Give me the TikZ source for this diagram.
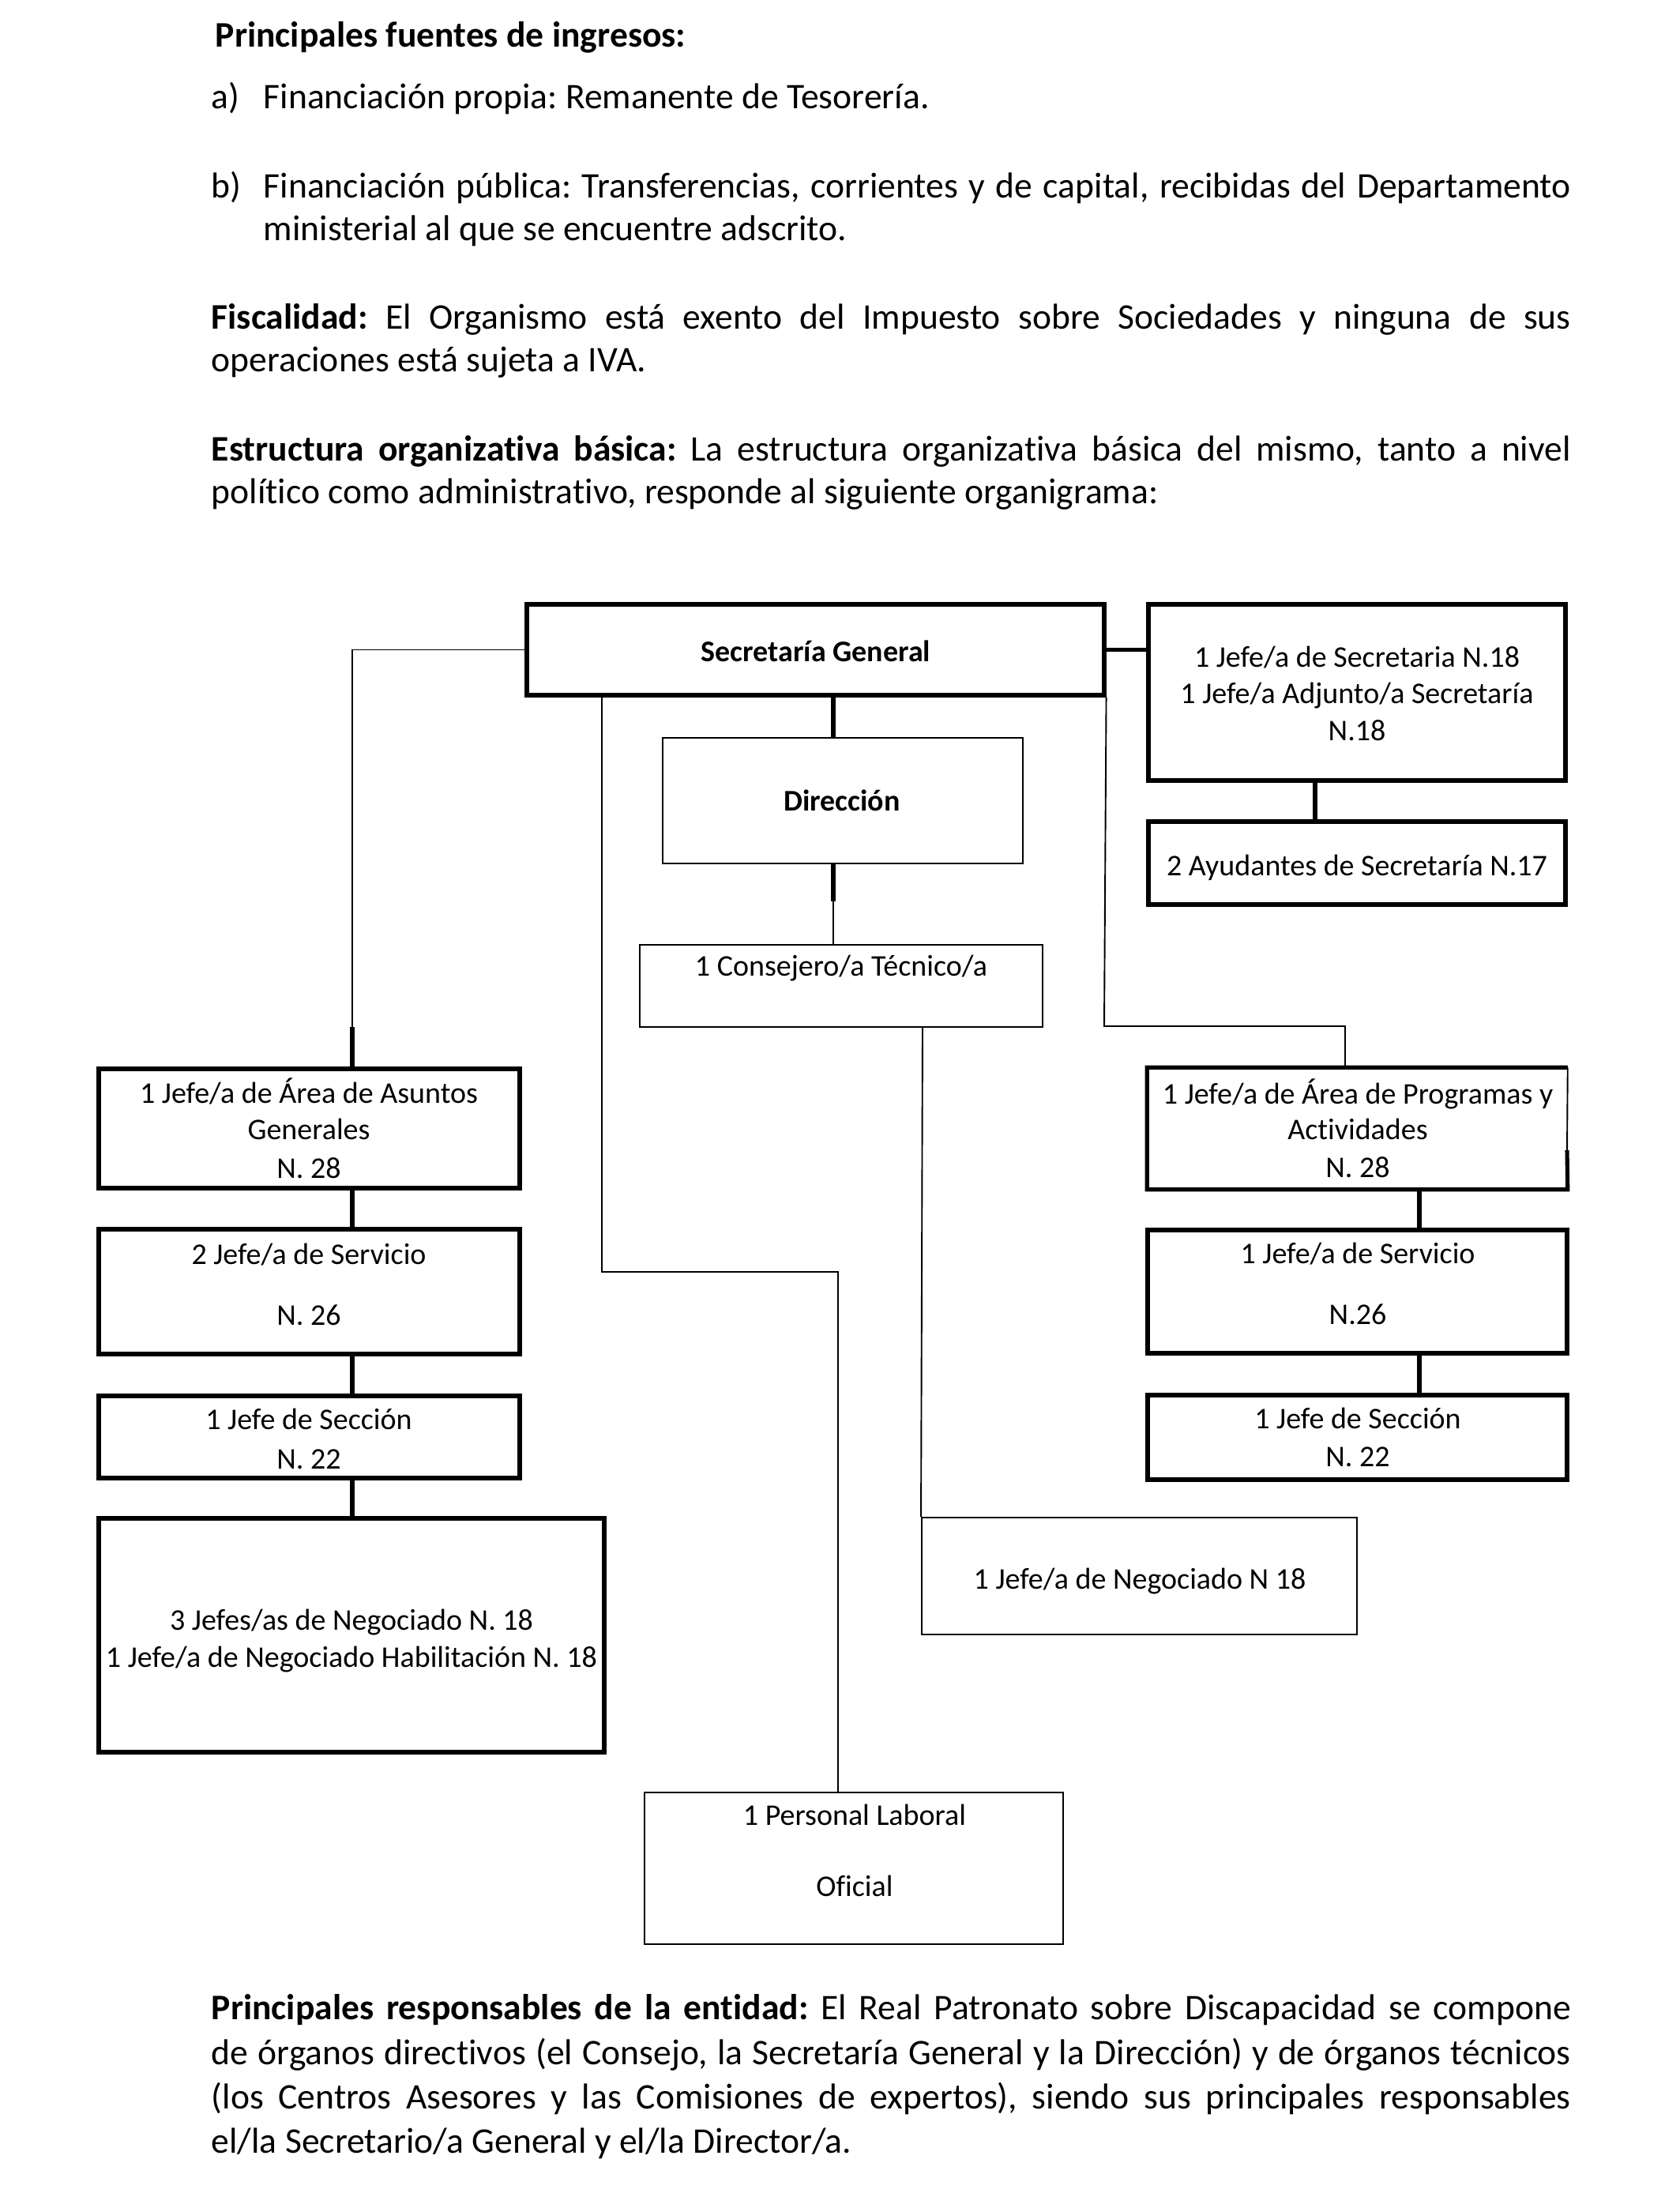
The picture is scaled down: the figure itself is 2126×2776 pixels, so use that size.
\documentclass[tikz,border=0pt]{standalone}
\usepackage{fontspec}
\setmainfont{Carlito}[Ligatures=NoCommon]
\frenchspacing
\usetikzlibrary{fit}
\begin{document}
\begin{tikzpicture}[x=0.2632pt,y=-0.2632pt,
  thk/.style={line width=1.35pt},
  thn/.style={line width=0.5pt},
  boxthick/.style={draw, thk, inner sep=0pt},
  boxthin/.style={draw, thn, inner sep=0pt},
  lbl/.style={anchor=base, inner sep=0pt, font=\fontsize{10}{12}\selectfont},
  body/.style={anchor=base west, inner sep=0pt, font=\fontsize{12}{14}\selectfont\frenchspacing}]
\fill[white] (0,0) rectangle (2126,2776);
\useasboundingbox (0,0) rectangle (2126,2776);

% ---------- top text ----------
\node[body] (t0) at (272,59) {\textbf{Principales fuentes de ingresos:}};
\node[body] (ta) at (267,137) {a)};
\node[body] (ta2) at (333,137) {Financiación propia: Remanente de Tesorería.};
\node[body] (tb) at (267,250) {b)};
\node[body] (tb1) at (333,250) {\makebox[435.6pt][s]{Financiación pública: Transferencias, corrientes y de capital, recibidas del Departamento}};
\node[body] (tb2) at (333,304) {ministerial al que se encuentre adscrito.};
\node[body] (tf1) at (267,416) {\makebox[453pt][s]{\textbf{Fiscalidad:} El Organismo está exento del Impuesto sobre Sociedades y ninguna de sus}};
\node[body] (tf2) at (267,470) {operaciones está sujeta a IVA.};
\node[body] (te1) at (267,583) {\makebox[453pt][s]{\textbf{Estructura organizativa básica:} La estructura organizativa básica del mismo, tanto a nivel}};
\node[body] (te2) at (267,637) {político como administrativo, responde al siguiente organigrama:};

% ---------- boxes ----------
\node[boxthick, fit={(667,765)(1398,880)}] (sg) {};
\node[boxthick, fit={(1454,765)(1982,988)}] (jsec) {};
\node[boxthick, fit={(1454,1040)(1982,1145)}] (ayud) {};
\node[boxthin, fit={(839,934)(1295,1093)}] (dir) {};
\node[boxthin, fit={(810,1196)(1320,1300)}] (cons) {};
\node[boxthick, fit={(125,1353)(658,1504)}] (larea) {};
\node[boxthick, fit={(125,1556)(658,1714)}] (lserv) {};
\node[boxthick, fit={(125,1767)(658,1871)}] (lsec) {};
\node[boxthick, fit={(125,1922)(765,2218)}] (lneg) {};
\node[inner sep=0pt, fit={(1453,1352)(1984,1505)}] (rarea) {};
\draw[thk] (1984,1456) -- (rarea.south east) -- (rarea.south west) -- (rarea.north west) -- (rarea.north east);
\draw[thn] (rarea.north east) -- (1984,1456);
\node[boxthick, fit={(1453,1557)(1984,1713)}] (rserv) {};
\node[boxthick, fit={(1453,1766)(1984,1873)}] (rsec) {};
\node[boxthin, fit={(1167,1921)(1718,2069)}] (neg) {};
\node[boxthin, fit={(816,2269)(1346,2461)}] (pers) {};

% ---------- connectors ----------
\draw[thk] (sg.east) -- (sg.east -| jsec.west);
\draw[thk] (1055,0 |- sg.south) -- (1055,0 |- dir.north);
\draw[thk] (1055,0 |- dir.south) -- (1055,1141);
\draw[thn] (1055,1141) -- (1055,0 |- cons.north);
\draw[thk] (1665,0 |- jsec.south) -- (1665,0 |- ayud.north);
\draw[thn] (sg.west) -- (446,0 |- sg.west) -- (446,1300);
\draw[thk] (446,1300) -- (446,0 |- larea.north);
\draw[thk] (446,0 |- larea.south) -- (446,0 |- lserv.north);
\draw[thk] (446,0 |- lserv.south) -- (446,0 |- lsec.north);
\draw[thk] (446,0 |- lsec.south) -- (446,0 |- lneg.north);
\draw[thn] (762,0 |- sg.south) -- (762,1610) -- (1061,1610) -- (1061,0 |- pers.north);
\draw[thn] (sg.south east) -- (1398,1299) -- (1703,1299) -- (1703,0 |- rarea.north);
\draw[thn] (1168,0 |- cons.south) -- (neg.north west);
\draw[thk] (1797,0 |- rarea.south) -- (1797,0 |- rserv.north);
\draw[thk] (1797,0 |- rserv.south) -- (1797,0 |- rsec.north);

% ---------- box texts ----------
\node[lbl] (sgt) at (1033,837) {\textbf{Secretaría General}};
\node[lbl] (js1) at (1718,844) {1 Jefe/a de Secretaria N.18};
\node[lbl] (js2) at (1718,890) {1 Jefe/a Adjunto/a Secretaría};
\node[lbl] (js3) at (1718,937) {N.18};
\node[lbl] (dirt) at (1066,1026) {\textbf{Dirección}};
\node[lbl] (ayt) at (1718,1108) {2 Ayudantes de Secretaría N.17};
\node[lbl] (cot) at (1065,1235) {1 Consejero/a Técnico/a};
\node[lbl] (la1) at (391,1396) {1 Jefe/a de Área de Asuntos};
\node[lbl] (la2) at (391,1442) {Generales};
\node[lbl] (la3) at (391,1491) {N. 28};
\node[lbl] (ls1) at (391,1600) {2 Jefe/a de Servicio};
\node[lbl] (ls2) at (391,1677) {N. 26};
\node[lbl] (lc1) at (391,1809) {1 Jefe de Sección};
\node[lbl] (lc2) at (391,1859) {N. 22};
\node[lbl] (ln1) at (445,2063) {3 Jefes/as de Negociado N. 18};
\node[lbl] (ln2) at (445,2110) {1 Jefe/a de Negociado Habilitación N. 18};
\node[lbl] (ra1) at (1719,1397) {1 Jefe/a de Área de Programas y};
\node[lbl] (ra2) at (1719,1442) {Actividades};
\node[lbl] (ra3) at (1719,1490) {N. 28};
\node[lbl] (rs1) at (1719,1599) {1 Jefe/a de Servicio};
\node[lbl] (rs2) at (1719,1676) {N.26};
\node[lbl] (rc1) at (1719,1808) {1 Jefe de Sección};
\node[lbl] (rc2) at (1719,1856) {N. 22};
\node[lbl] (ngt) at (1443,2011) {1 Jefe/a de Negociado N 18};
\node[lbl] (pe1) at (1082,2310) {1 Personal Laboral};
\node[lbl] (pe2) at (1082,2400) {Oficial};

% ---------- bottom text ----------
\node[body] (r1) at (267,2556) {\makebox[453pt][s]{\textbf{Principales responsables de la entidad:} El Real Patronato sobre Discapacidad se compone}};
\node[body] (r2) at (267,2613) {\makebox[453pt][s]{de órganos directivos (el Consejo, la Secretaría General y la Dirección) y de órganos técnicos}};
\node[body] (r3) at (267,2669) {\makebox[453pt][s]{(los Centros Asesores y las Comisiones de expertos), siendo sus principales responsables}};
\node[body] (r4) at (267,2725) {el/la Secretario/a General y el/la Director/a.};
\end{tikzpicture}
\end{document}
